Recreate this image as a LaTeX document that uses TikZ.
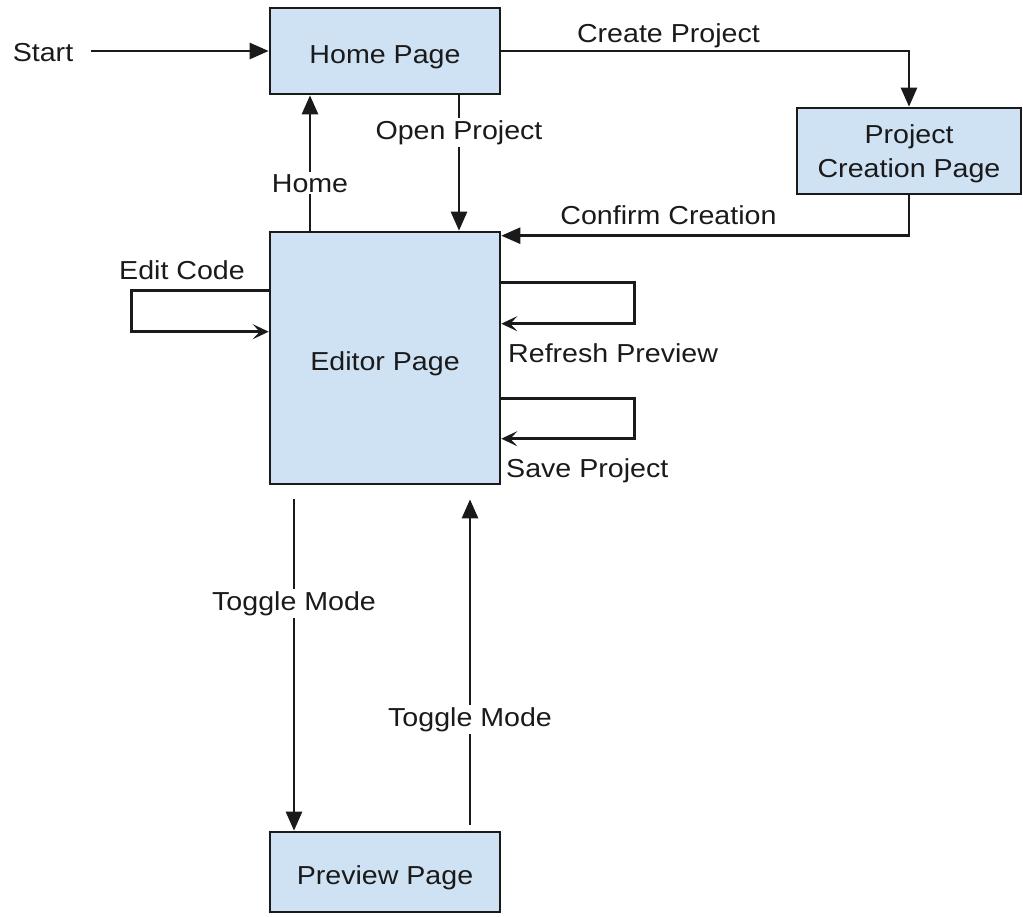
\documentclass[tikz,border=0pt]{standalone}
\usepackage{fontspec}
\setmainfont{Liberation Sans}[FakeStretch=1.1]
\usetikzlibrary{arrows.meta}
\definecolor{boxblue}{HTML}{CFE2F3}
\definecolor{ink}{HTML}{1A1A1A}
\begin{document}
\begin{tikzpicture}[x=1pt,y=-1pt,
  every node/.style={font=\fontsize{26}{34}\selectfont, text=ink},
  pagebox/.style={draw=ink, fill=boxblue, line width=2.6pt, minimum width=230pt, inner sep=0pt, align=center, text height=29pt, text depth=5pt},
  arr/.style={draw=ink, line width=2.6pt, -{Triangle[length=19pt,width=16pt]}},
  looparr/.style={draw=ink, line width=2.6pt, -{Stealth[length=16pt,width=15pt,inset=7pt]}},
  lbl/.style={fill=white, inner sep=2pt}]
\useasboundingbox (0,0) rectangle (1023,916);
\node[pagebox, minimum height=86pt] (home) at (385,51) {Home Page};
\node[draw=ink, fill=boxblue, line width=2.6pt, minimum width=224pt, minimum height=86pt, inner sep=0pt] (pcp) at (909,151) {};
\node[align=center, inner sep=0pt] (pcptext) at (909,154) {Project\\Creation Page};
\node[pagebox, minimum height=252pt] (editor) at (385,358) {Editor Page};
\node[pagebox, minimum height=80pt] (preview) at (385,872) {Preview Page};
\node (start) at (43,53) {Start};
\draw[arr] (start.east |- home.west) ++(14,0) -- (home.west);
\draw[arr] ([xshift=-75pt]editor.north) -- ([xshift=-75pt]home.south) node[lbl, pos=0.35] {Home};
\draw[arr] ([xshift=74pt]home.south) -- ([xshift=74pt]editor.north) node[lbl, pos=0.275] {Open Project};
\draw[arr] (home.east) -| (pcp.north) node[pos=0.205, above=-2pt] {Create Project};
\draw[arr] (pcp.south) |- ([yshift=-5pt]editor.north east) node[pos=0.795, above=6pt] {Confirm Creation};
\draw[looparr] ([yshift=-60pt]editor.north west) -| ++(-137,41) -- ([yshift=-101pt]editor.north west);
\node (ec) at (182,270) {Edit Code};
\draw[looparr] ([yshift=-52pt]editor.north east) -| ++(133,41) -- ([yshift=-93pt]editor.north east);
\node[anchor=west, inner sep=0pt] (rp) at (508,353) {Refresh Preview};
\draw[looparr] ([yshift=-168pt]editor.north east) -| ++(133,40) -- ([yshift=-208pt]editor.north east);
\node[anchor=west, inner sep=0pt] (sp) at (506,471) {Save Project};
\draw[arr, shorten <=14pt] ([xshift=-91pt]editor.south) -- ([xshift=-91pt]preview.north) node[lbl, pos=0.342] {Toggle Mode};
\draw[arr, shorten >=14pt] ([xshift=85pt,yshift=6pt]preview.north) -- ([xshift=85pt]editor.south) node[lbl, pos=0.31] {Toggle Mode};
\end{tikzpicture}
\end{document}
